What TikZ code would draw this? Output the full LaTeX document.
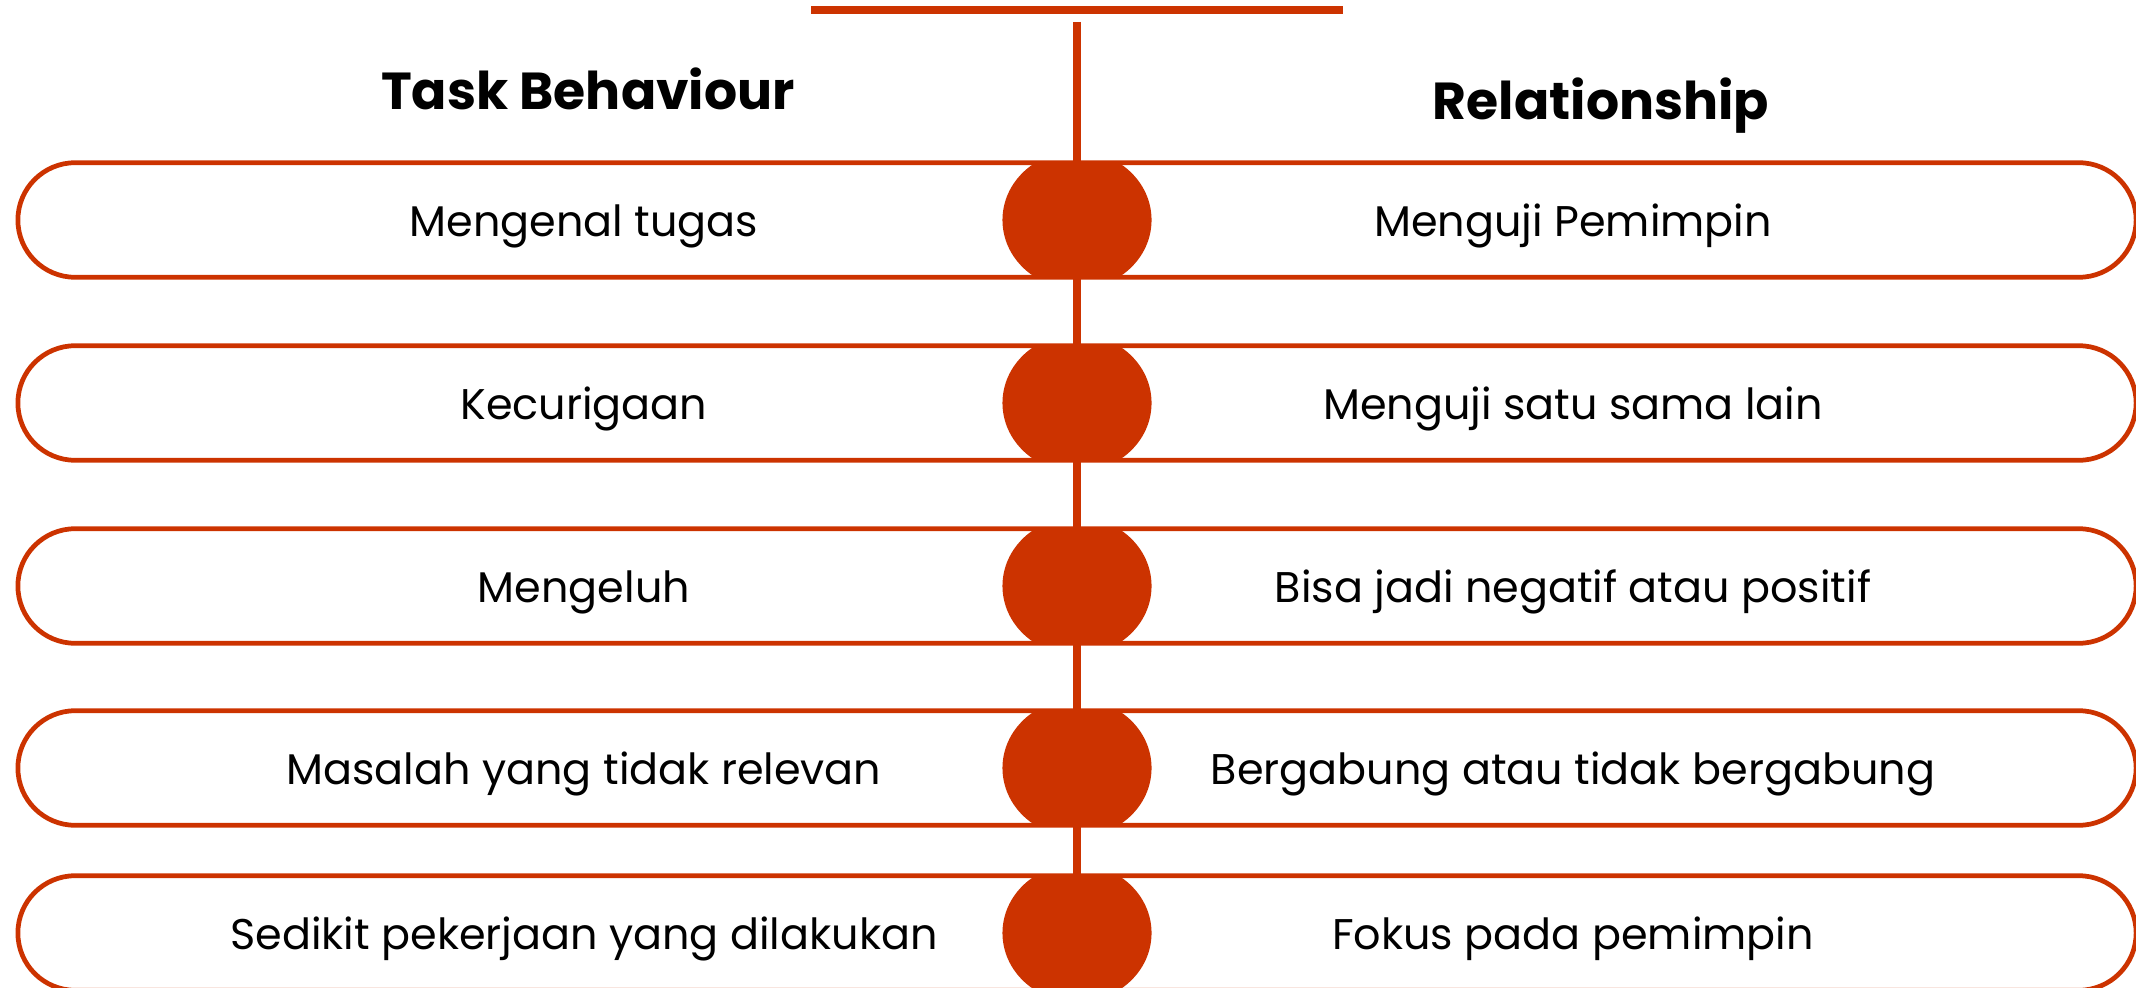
\documentclass[tikz,border=0pt]{standalone}
\usepackage{fontspec}
\setmainfont{Poppins}
\usetikzlibrary{shapes.misc}
\definecolor{rust}{HTML}{CC3300}
\tikzset{
  pill/.style={rounded rectangle, draw=rust, line width=1.35pt, fill=white,
    minimum width=21.17cm, minimum height=1.145cm, inner sep=0pt,
    path picture={\fill[rust] (path picture bounding box.center) ellipse [x radius=0.745cm, y radius=0.69cm];}},
  item/.style={anchor=base, font=\fontsize{12.2}{14}\selectfont},
  heading/.style={anchor=base, font=\fontsize{14.8}{18}\selectfont\bfseries},
}
\begin{document}
\begin{tikzpicture}[x=0.01cm, y=-0.01cm]
\useasboundingbox (0,0) rectangle (2136,988);
\coordinate (barL) at (811,10);
\coordinate (barR) at (1343,10);
\coordinate (stemtop) at (1077,22);
\coordinate (stembot) at (1077,988);
\draw[rust, line width=2.3pt] (barL) -- (barR); % the bar on top
\draw[rust, line width=2pt] (stemtop) -- (stembot);
\node[heading] (taskhead) at (588,110) {Task Behaviour};
\node[heading] (relhead) at (1601,120) {Relationship};
\foreach \n/\y/\lt/\rt in {1/220/{Mengenal tugas}/{Menguji Pemimpin},
    2/403/{Kecurigaan}/{Menguji satu sama lain},
    3/586/{Mengeluh}/{Bisa jadi negatif atau positif},
    4/768/{Masalah yang tidak relevan}/{Bergabung atau tidak bergabung},
    5/933/{Sedikit pekerjaan yang dilakukan}/{Fokus pada pemimpin}} % edit here for the rows
{
\node[pill] (row\n) at (1077,\y) {};
\node[item] (task\n) at (584,\y+16) {\lt};
\node[item] (rel\n) at (1573,\y+16) {\rt};
}
\end{tikzpicture}
\end{document}
